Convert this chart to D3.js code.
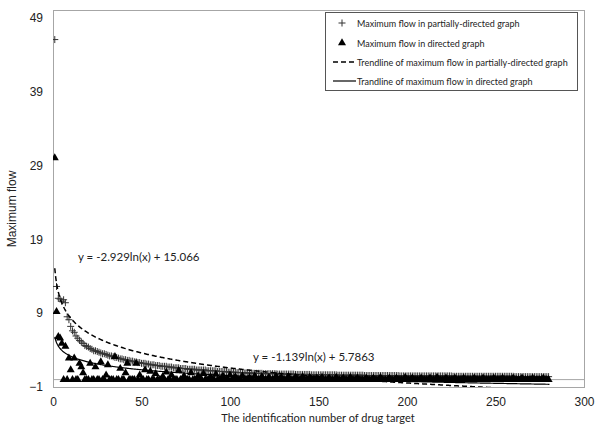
<!DOCTYPE html>
<html><head><meta charset="utf-8">
<script src="https://cdn.jsdelivr.net/npm/d3@7"></script>
<style>body{margin:0;background:#fff}svg{display:block}</style>
</head><body>
<script>
// ---- data ----
const xTicks = [0, 50, 100, 150, 200, 250, 300];
const yTicks = [-1, 9, 19, 29, 39, 49];
const seriesNames = ["Maximum flow in partially-directed graph", "Maximum flow in directed graph",
  "Trendline of maximum flow in partially-directed graph", "Trandline of maximum flow in directed graph"];
const trendPartial = [-2.929, 15.066];
const trendDirected = [-1.139, 5.7863];
const eqLabels = ["y = -2.929ln(x) + 15.066", "y = -1.139ln(x) + 5.7863"];
// partially-directed graph, drug targets 1..280
const partialFlow = [
46,12.6,11.0,10.9,10.6,10.8,10.4,8.5,8.1,7.2,
6.6,6.4,5.9,5.6,5.3,5.1,4.9,4.6,4.5,4.4,
4.2,4.1,3.9,3.9,3.8,3.7,3.6,3.5,3.5,3.4,
3.3,3.2,3.2,3.1,3.0,3.0,2.9,2.8,2.8,2.7,
2.7,2.6,2.6,2.5,2.5,2.4,2.4,2.3,2.3,2.2,
2.2,2.2,2.1,2.1,2.0,2.0,2.0,1.9,1.9,1.9,
1.8,1.8,1.8,1.8,1.7,1.7,1.7,1.6,1.6,1.6,
1.6,1.5,1.5,1.5,1.5,1.4,1.4,1.4,1.4,1.4,
1.3,1.3,1.3,1.3,1.3,1.3,1.2,1.2,1.2,1.2,
1.2,1.2,1.1,1.1,1.1,1.1,1.1,1.1,1.0,1.0,
1.0,1.0,1.0,0.95,0.95,0.95,0.95,0.9,0.9,0.9,
0.9,0.9,0.85,0.85,0.85,0.85,0.85,0.85,0.8,0.8,
0.8,0.8,0.8,0.8,0.8,0.8,0.75,0.75,0.75,0.75,
0.75,0.75,0.75,0.75,0.75,0.75,0.7,0.7,0.7,0.7,
0.7,0.7,0.7,0.7,0.7,0.65,0.65,0.65,0.65,0.65,
0.65,0.65,0.65,0.65,0.65,0.65,0.65,0.65,0.65,0.65,
0.6,0.6,0.6,0.6,0.6,0.6,0.6,0.6,0.6,0.6,
0.6,0.6,0.6,0.6,0.6,0.55,0.55,0.55,0.55,0.55,
0.55,0.55,0.55,0.55,0.55,0.55,0.55,0.55,0.55,0.55,
0.55,0.55,0.55,0.55,0.55,0.5,0.5,0.5,0.5,0.5,
0.5,0.5,0.5,0.5,0.5,0.5,0.5,0.5,0.5,0.5,
0.5,0.5,0.5,0.5,0.5,0.5,0.5,0.5,0.5,0.5,
0.5,0.5,0.5,0.5,0.5,0.45,0.45,0.45,0.45,0.45,
0.45,0.45,0.45,0.45,0.45,0.45,0.45,0.45,0.45,0.45,
0.45,0.45,0.45,0.45,0.45,0.45,0.45,0.45,0.45,0.45,
0.45,0.45,0.45,0.45,0.45,0.45,0.45,0.45,0.45,0.45,
0.4,0.4,0.4,0.4,0.4,0.4,0.4,0.4,0.4,0.4,
0.4,0.4,0.4,0.4,0.4,0.4,0.4,0.4,0.4,0.4];
// directed graph, drug targets 1..280
const directedFlow = [
30,9.2,5.8,5.6,4.9,0,4.5,0,2.9,1.3,0,2.9,0,0,2.2,1.7,0.9,0,0,0,
2.2,0,0,1.7,0,0,2.4,0,0,0.6,2.0,0,0,0,3.1,0,0,1.5,0,0,
0.9,2.2,0,0,0,0,2.2,0,0.6,0,0,1.3,0,0,1.1,0,0,0.8,0,0,
0,0.4,0,1.0,0,0,0.6,0,0,0,1.2,0,0,0.5,0,0,0,0.9,0,0,
0,0.5,0,0,0.8,0,0,0,0.4,0,0,0.7,0,0,0,0.5,0,0,0,0.6,
0,0,0.4,0,0,0,0.5,0,0,0,0.3,0,0,0.5,0,0,0,0.4,0,0,
0,0.3,0,0,0,0.5,0,0,0.3,0,0,0,0.4,0,0,0,0.3,0,0,0,
0.4,0,0,0,0.3,0,0,0,0.2,0,0,0.3,0,0,0,0.2,0,0,0,0.3,
0,0,0,0.2,0,0,0,0.3,0,0,0,0.2,0,0,0,0,0.2,0,0,0,
0.2,0,0,0,0.3,0,0,0,0,0.2,0,0,0,0.2,0,0,0,0,0.3,0,
0,0,0.2,0,0,0,0,0.2,0,0,0,0,0.2,0,0,0,0.3,0,0,0,
0,0.2,0,0,0,0,0.2,0,0,0,0,0.2,0,0,0,0,0,0.2,0,0,
0,0,0.2,0,0,0,0,0,0.2,0,0,0,0,0.2,0,0,0,0,0,0.2,
0,0,0,0,0.2,0,0,0,0,0,0.2,0,0,0,0,0,0.2,0,0,0];

// ---- chart ----
const W = 600, H = 434;
const L = 53, R = 584, T = 10, B = 387;
const svg = d3.select("body").append("svg").attr("width", W).attr("height", H);
const x = d3.scaleLinear().domain([0, 300]).range([L, R]);
const y = d3.scaleLinear().domain([-1, 50]).range([B, T]);
const grey = "#a6a6a6";

svg.append("defs").append("clipPath").attr("id", "clip")
  .append("rect").attr("x", L).attr("y", T).attr("width", R - L).attr("height", B - T);

// plot frame
svg.append("rect").attr("x", L).attr("y", T).attr("width", R - L).attr("height", B - T)
  .attr("fill", "none").attr("stroke", grey).attr("stroke-width", 1).attr("shape-rendering", "crispEdges");
// horizontal axis at y = 0
svg.append("line").attr("x1", L).attr("x2", R).attr("y1", y(0)).attr("y2", y(0))
  .attr("stroke", grey).attr("stroke-width", 1);

// axes labels (no tick marks)
const xAxis = svg.append("g").attr("transform", `translate(0,${B})`)
  .call(d3.axisBottom(x).tickValues(xTicks).tickSize(0).tickPadding(10));
const yAxis = svg.append("g").attr("transform", `translate(${L},0)`)
  .call(d3.axisLeft(y).tickValues(yTicks).tickSize(0).tickPadding(10));
[xAxis, yAxis].forEach(a => {
  a.select(".domain").remove();
  a.selectAll("text").attr("font-family", "Liberation Sans, Arial, sans-serif").attr("font-size", 12).attr("fill", "#222");
});

svg.append("text").attr("x", 318).attr("y", 422).attr("text-anchor", "middle")
  .attr("font-family", "Lato, sans-serif").attr("font-size", 11).attr("fill", "#222")
  .text("The identification number of drug target");
svg.append("text").attr("transform", "translate(16,209) rotate(-90)").attr("text-anchor", "middle")
  .attr("font-family", "Liberation Sans, Arial, sans-serif").attr("font-size", 12).attr("fill", "#222")
  .text("Maximum flow");

const plot = svg.append("g").attr("clip-path", "url(#clip)");
const plusPath = "M-3.5,0H3.5M0,-3.5V3.5";
const tri = d3.symbol().type(d3.symbolTriangle).size(28);

plot.append("g").selectAll("path").data(partialFlow).join("path")
  .attr("transform", (d, i) => `translate(${x(i + 1)},${y(d)})`)
  .attr("d", plusPath).attr("stroke", "#333").attr("stroke-width", 1).attr("fill", "none");
plot.append("g").selectAll("path").data(directedFlow).join("path")
  .attr("transform", (d, i) => `translate(${x(i + 1)},${y(d)})`)
  .attr("d", tri).attr("fill", "#000");

const xs = d3.range(1, 281, 0.5);
const trendLine = c => d3.line().x(v => x(v)).y(v => y(c[0] * Math.log(v) + c[1]))(xs);
plot.append("path").attr("d", trendLine(trendPartial)).attr("fill", "none")
  .attr("stroke", "#000").attr("stroke-width", 1.5).attr("stroke-dasharray", "5,3");
plot.append("path").attr("d", trendLine(trendDirected)).attr("fill", "none")
  .attr("stroke", "#000").attr("stroke-width", 1.2);

// equation labels
svg.append("text").attr("x", 78).attr("y", 261).attr("font-family", "Lato, sans-serif")
  .attr("font-size", 11.5).attr("fill", "#222").text(eqLabels[0]);
svg.append("text").attr("x", 253).attr("y", 361).attr("font-family", "Lato, sans-serif")
  .attr("font-size", 11.5).attr("fill", "#222").text(eqLabels[1]);

// legend
const lg = svg.append("g");
lg.append("rect").attr("x", 325.5).attr("y", 12.5).attr("width", 252).attr("height", 78)
  .attr("fill", "#fff").attr("stroke", "#555").attr("stroke-width", 1);
const ly = [23, 43, 62, 81];
lg.append("path").attr("transform", `translate(342,${ly[0]})`).attr("d", plusPath)
  .attr("stroke", "#333").attr("fill", "none");
lg.append("path").attr("transform", `translate(342,${ly[1]})`).attr("d", tri).attr("fill", "#000");
lg.append("line").attr("x1", 333).attr("x2", 356).attr("y1", ly[2]).attr("y2", ly[2])
  .attr("stroke", "#000").attr("stroke-width", 1.5).attr("stroke-dasharray", "5,3");
lg.append("line").attr("x1", 333).attr("x2", 356).attr("y1", ly[3]).attr("y2", ly[3])
  .attr("stroke", "#000").attr("stroke-width", 1.2);
const lx = [357, 357, 357, 357];
seriesNames.forEach((s, i) => {
  lg.append("text").attr("x", i < 2 ? 357 : 357).attr("y", ly[i] + 3.5)
    .attr("font-family", "Lato, sans-serif").attr("font-size", 9).attr("fill", "#222").text(s);
});
</script>
</body></html>
